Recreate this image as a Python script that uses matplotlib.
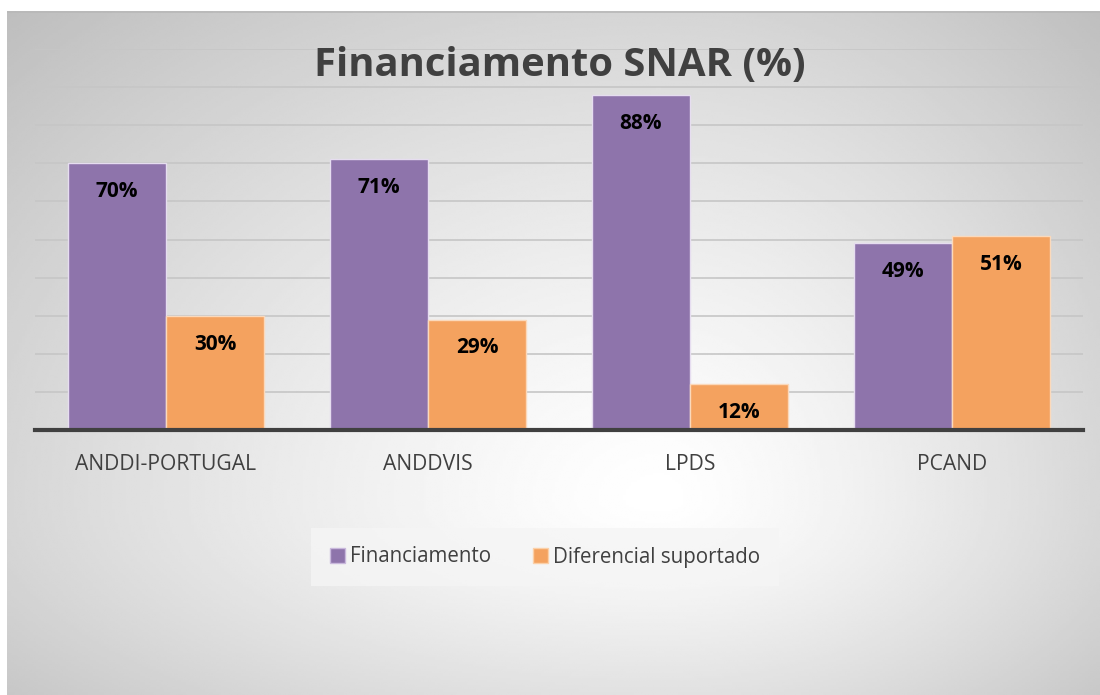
import numpy as np
import matplotlib
matplotlib.use("Agg")
import matplotlib.pyplot as plt
from matplotlib.patches import Patch

# data
categories = ["ANDDI-PORTUGAL", "ANDDVIS", "LPDS", "PCAND"]
financiamento = [70, 71, 88, 49]
diferencial = [30, 29, 12, 51]
series_names = ["Financiamento", "Diferencial suportado"]

purple = "#8e74ab"
orange = "#f4a25f"
text_col = "#404040"

plt.rcParams['font.family'] = ['Open Sans', 'DejaVu Sans']

W, H = 1100, 695
fig = plt.figure(figsize=(W / 100, H / 100), dpi=100)
fig.patch.set_facecolor("white")

# background panel with radial-ish gradient
x0, y0 = 7, 11
bg = fig.add_axes([x0 / W, 0, 1 - x0 / W, 1 - y0 / H], zorder=-10)
xs = np.linspace(x0, W, 400)
ys = np.linspace(y0, H, 300)
X, Y = np.meshgrid(xs, ys)
cx, cy = 660, 500
dx = np.where(X < cx, (cx - X) / 680, (X - cx) / 470)
dy = np.where(Y < cy, (cy - Y) / 500, (Y - cy) / 260)
d = np.clip(np.sqrt(dx ** 2 + dy ** 2), 0, 1.4)
val = 1 - 0.17 * d ** 1.3
bg.imshow(val, cmap="gray", vmin=0, vmax=1, extent=(x0, W, H, y0), aspect="auto",
          interpolation="bilinear")
bg.plot([x0, W], [y0 + 0.5, y0 + 0.5], color="#b8b8b8", lw=1.2)
bg.set_xlim(x0, W)
bg.set_ylim(H, y0)
bg.axis("off")

# main axes
ax = fig.add_axes([35 / W, 1 - 430 / H, (1083 - 35) / W, (430 - 49) / H])
ax.patch.set_alpha(0)
x = np.arange(len(categories))
w = 0.375
b1 = ax.bar(x - w / 2, financiamento, w, color=purple, edgecolor="#e6ddf0",
            linewidth=1, zorder=3)
b2 = ax.bar(x + w / 2, diferencial, w, color=orange, edgecolor="#fbd9bb",
            linewidth=1, zorder=3)

for bars, vals in ((b1, financiamento), (b2, diferencial)):
    for r, v in zip(bars, vals):
        ax.annotate(f"{v}%", (r.get_x() + r.get_width() / 2, v), xytext=(0, -20.5),
                    textcoords="offset points", ha="center", va="center",
                    fontsize=15, fontweight="bold", color="black", zorder=5)

ax.set_xlim(-0.5, len(categories) - 0.5)
ax.set_ylim(0, 100)
ax.set_yticks(np.arange(10, 101, 10))
ax.yaxis.grid(True, color="#c6c6c6", lw=1.2, zorder=0)
ax.tick_params(axis="y", left=False, labelleft=False)
ax.set_xticks(x)
ax.set_xticklabels(categories, fontsize=15.2, color=text_col)
ax.tick_params(axis="x", length=0, pad=17)
for s in ["top", "right", "left"]:
    ax.spines[s].set_visible(False)
ax.spines["bottom"].set_color("#404040")
ax.spines["bottom"].set_linewidth(3)
ax.spines["bottom"].set_zorder(6)

fig.text(560 / W, 1 - 66 / H, "Financiamento SNAR (%)", ha="center", va="center",
         fontsize=28.8, fontweight="bold", color=text_col)

handles = [Patch(facecolor=purple, edgecolor="#c9b8dc"),
           Patch(facecolor=orange, edgecolor="#fbd0a8")]
leg = fig.legend(handles, series_names, loc="center", bbox_to_anchor=(545 / W, 1 - 557 / H),
                 ncol=2, frameon=True, fontsize=14.8, handlelength=0.75, handleheight=0.75,
                 handletextpad=0.25, columnspacing=2.0, borderpad=0.9, fancybox=False)
leg.get_frame().set_facecolor("#f5f5f5")
leg.get_frame().set_edgecolor("none")
for t in leg.get_texts():
    t.set_color(text_col)

fig.savefig("out.png", dpi=100)
